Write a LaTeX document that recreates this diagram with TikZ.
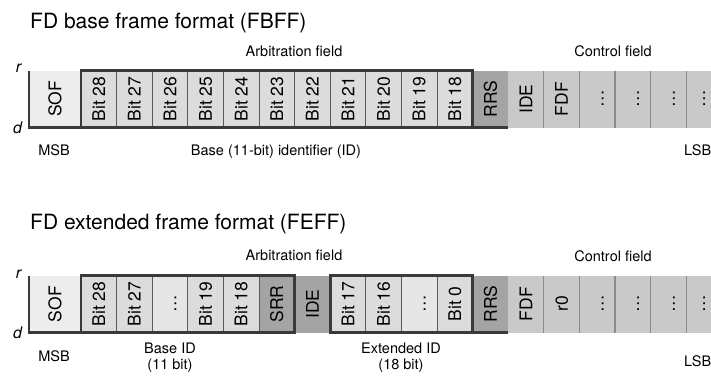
\documentclass[tikz,border=0pt]{standalone}
\usepackage{fontspec}
\setmainfont{TeX Gyre Heros}
\usetikzlibrary{positioning}
\definecolor{sofgris}{HTML}{EDEDED}
\definecolor{bitgris}{HTML}{DCDCDC}
\definecolor{puntgris}{HTML}{E6E6E6}
\definecolor{ctrlgris}{HTML}{C9C9C9}
\definecolor{oscuro}{HTML}{A4A4A4}
\definecolor{borde}{HTML}{3A3A3A}
\definecolor{gris}{HTML}{5A5A5A}
\definecolor{grismedio}{HTML}{8C8C8C}
\newcommand{\vlbl}[1]{\rotatebox{90}{\vphantom{B}#1}}

\begin{document}
\begin{tikzpicture}[x=1pt,y=-1pt,
    cell/.style={minimum width=35.6pt,minimum height=57pt,inner sep=0pt,outer sep=0pt,
      font=\fontsize{17.5}{17.5}\selectfont},
    bitcell/.style={cell,fill=bitgris,draw=gris,line width=0.9pt},
    darkcell/.style={cell,fill=oscuro},
    ctrlcell/.style={cell,fill=ctrlgris},
    lastcell/.style={ctrlcell,minimum width=25pt},
    grp/.style={draw=borde,line width=2.8pt},
    ctrlline/.style={draw=grismedio,line width=1.3pt},
    title/.style={font=\fontsize{21}{21}\selectfont,inner sep=0pt},
    lbl/.style={font=\fontsize{14.5}{16}\selectfont,inner sep=0pt,align=center},
    lvl/.style={font=\fontsize{16}{16}\selectfont\itshape,inner sep=0pt}]
  \useasboundingbox (0,0) rectangle (711,376);

  % FD base frame format
  \node[title,anchor=base west] (tbase) at (30,28.5) {FD base frame format (FBFF)};
  \node[cell,fill=sofgris,minimum width=52pt] (fbsof) at (55,99) {\vlbl{SOF}};
  \foreach \i [remember=\i as \prev (initially sof)] in {28,27,...,18}
    \node[bitcell,right=0pt of fb\prev] (fb\i) {\vlbl{Bit \i}};
  \node[darkcell,right=0pt of fb18] (fbrrs) {\vlbl{RRS}};
  \node[ctrlcell,right=0pt of fbrrs] (fbide) {\vlbl{IDE}};
  \node[ctrlcell,right=0pt of fbide] (fbfdf) {\vlbl{FDF}};
  \foreach \k [remember=\k as \prev (initially fdf)] in {c1,c2,c3}
    \node[ctrlcell,right=0pt of fb\prev] (fb\k) {\vlbl{\dots}};
  \node[lastcell,right=0pt of fbc3] (fbc4) {\vlbl{\dots}};
  \foreach \a in {fbide,fbfdf,fbc1,fbc2,fbc3}
    \draw[ctrlline] (\a.north east) -- (\a.south east);
  \draw[grp] (fb28.north west) rectangle (fb18.south east);
  \draw[grp] (fbsof.north west) -- (fbsof.south west) -- (fbrrs.south east);

  \node[lvl,anchor=base] (fbr) at (18.5,72) {r};
  \node[lvl,anchor=base] (fbd) at (17.5,133) {d};
  \node[lbl,anchor=base] (fbarb) at (294,56) {Arbitration field};
  \node[lbl,anchor=base] (fbctrl) at (613,56) {Control field};
  \node[lbl,anchor=base] (fbmsb) at (54,155.5) {MSB};
  \node[lbl,anchor=base] (fbid) at (276,155.5) {Base (11-bit) identifier (ID)};
  \node[lbl,anchor=base west] (fblsb) at (684,155.5) {LSB};

  % FD extended frame format
  \node[title,anchor=base west] (text) at (30,229.5) {FD extended frame format (FEFF)};
  \node[cell,fill=sofgris,minimum width=52pt] (fesof) at (55,304) {\vlbl{SOF}};
  \node[bitcell,right=0pt of fesof] (fe28) {\vlbl{Bit 28}};
  \node[bitcell,right=0pt of fe28] (fe27) {\vlbl{Bit 27}};
  \node[bitcell,fill=puntgris,right=0pt of fe27] (fed1) {\vlbl{\dots}};
  \node[bitcell,right=0pt of fed1] (fe19) {\vlbl{Bit 19}};
  \node[bitcell,right=0pt of fe19] (fe18) {\vlbl{Bit 18}};
  \node[bitcell,fill=oscuro,right=0pt of fe18] (fesrr) {\vlbl{SRR}};
  \node[darkcell,right=0pt of fesrr] (feide) {\vlbl{IDE}};
  \node[bitcell,right=0pt of feide] (fe17) {\vlbl{Bit 17}};
  \node[bitcell,right=0pt of fe17] (fe16) {\vlbl{Bit 16}};
  \node[bitcell,fill=puntgris,right=0pt of fe16] (fed2) {\vlbl{\dots}};
  \node[bitcell,right=0pt of fed2] (fe0) {\vlbl{Bit 0}};
  \node[darkcell,right=0pt of fe0] (ferrs) {\vlbl{RRS}};
  \node[ctrlcell,right=0pt of ferrs] (fefdf) {\vlbl{FDF}};
  \node[ctrlcell,right=0pt of fefdf] (fer0) {\vlbl{r0}};
  \foreach \k [remember=\k as \prev (initially r0)] in {c1,c2,c3}
    \node[ctrlcell,right=0pt of fe\prev] (fe\k) {\vlbl{\dots}};
  \node[lastcell,right=0pt of fec3] (fec4) {\vlbl{\dots}};
  \foreach \a in {fefdf,fer0,fec1,fec2,fec3}
    \draw[ctrlline] (\a.north east) -- (\a.south east);
  \draw[grp] (fe28.north west) rectangle (fesrr.south east);
  \draw[grp] (fe17.north west) rectangle (fe0.south east);
  \draw[grp] (fesof.north west) -- (fesof.south west) -- (fesrr.south east);
  \draw[grp] (fe0.south east) -- (ferrs.south east);

  \node[lvl,anchor=base] (fer) at (18.5,278) {r};
  \node[lvl,anchor=base] (fed) at (17.5,338) {d};
  \node[lbl,anchor=base] (fearb) at (294,260.5) {Arbitration field};
  \node[lbl,anchor=base] (fectrl) at (613,261) {Control field};
  \node[lbl,anchor=base] (femsb) at (54,361.5) {MSB};
  \node[lbl,anchor=base] (febase) at (170,369.5) {Base ID\\(11 bit)};
  \node[lbl,anchor=base] (feext) at (401,369.5) {Extended ID\\(18 bit)};
  \node[lbl,anchor=base west] (felsb) at (684,366) {LSB};
\end{tikzpicture}
\end{document}
